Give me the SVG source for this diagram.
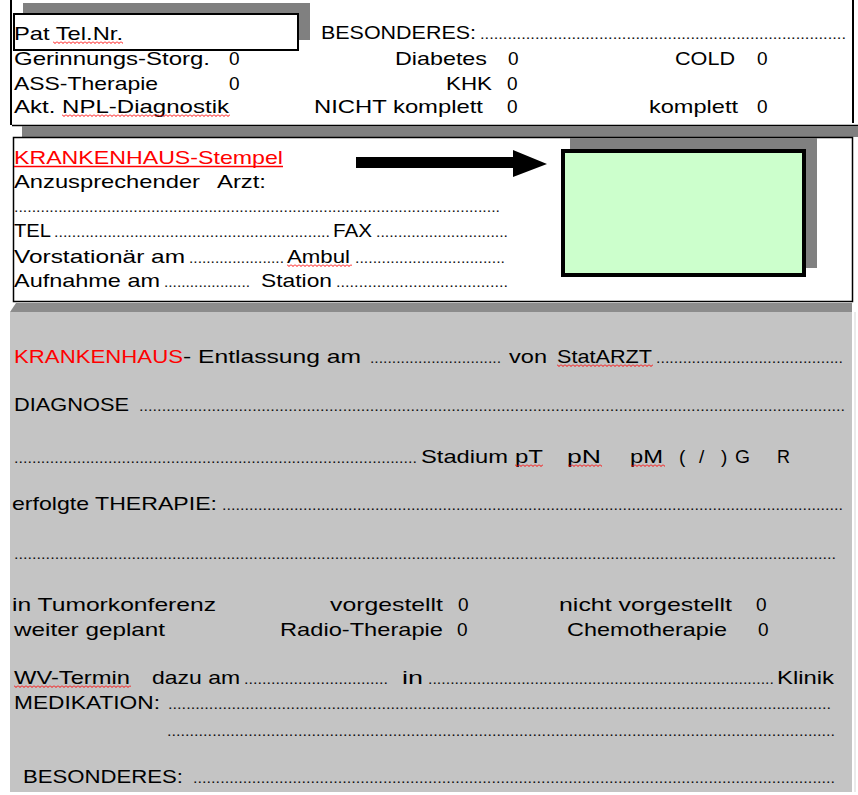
<svg xmlns="http://www.w3.org/2000/svg" width="858" height="795" viewBox="0 0 858 795">
<defs>
<style>
.t{font-family:"Liberation Sans",Arial,sans-serif;font-size:19px;fill:#000}
.d{font-family:"Liberation Sans",Arial,sans-serif;font-size:15px;fill:#111}
.r{fill:#FF0000}
.shadow{fill:#808080}
</style>
<pattern id="wave" width="4" height="4" patternUnits="userSpaceOnUse">
<path d="M0,0.5 L2,2.5 L4,0.5" fill="none" stroke="#FF0000" stroke-width="1"/>
</pattern>
</defs>
<rect width="858" height="795" fill="#fff"/>

<g id="top-section">
<line x1="11" y1="0" x2="11" y2="125" stroke="#000" stroke-width="2"/>
<line x1="853" y1="0" x2="853" y2="123" stroke="#000" stroke-width="2"/>
<text class="t" x="321" y="39" textLength="155" lengthAdjust="spacingAndGlyphs">BESONDERES:</text>
<text class="d" x="480" y="39" textLength="366" lengthAdjust="spacingAndGlyphs">................................................................................</text>
<text class="t" x="14" y="65" textLength="196" lengthAdjust="spacingAndGlyphs">Gerinnungs-Storg.</text>
<text class="t" x="229" y="65">0</text>
<text class="t" x="395" y="65" textLength="92" lengthAdjust="spacingAndGlyphs">Diabetes</text>
<text class="t" x="508" y="65">0</text>
<text class="t" x="675" y="65" textLength="60" lengthAdjust="spacingAndGlyphs">COLD</text>
<text class="t" x="757" y="65">0</text>
<text class="t" x="14" y="90" textLength="144" lengthAdjust="spacingAndGlyphs">ASS-Therapie</text>
<text class="t" x="229" y="90">0</text>
<text class="t" x="446" y="90" textLength="46" lengthAdjust="spacingAndGlyphs">KHK</text>
<text class="t" x="507" y="90">0</text>
<text class="t" x="14" y="113" textLength="215" lengthAdjust="spacingAndGlyphs">Akt. NPL-Diagnostik</text>
<rect transform="translate(62,114)" width="168" height="3" fill="url(#wave)"/>
<text class="t" x="314" y="113" textLength="169" lengthAdjust="spacingAndGlyphs">NICHT komplett</text>
<text class="t" x="507" y="113">0</text>
<text class="t" x="649" y="113" textLength="89" lengthAdjust="spacingAndGlyphs">komplett</text>
<text class="t" x="757" y="113">0</text>
<line x1="12" y1="125.5" x2="858" y2="125.5" stroke="#000" stroke-width="1.5"/>
</g>

<g id="pat-tel-box">
<rect class="shadow" x="23" y="3" width="287" height="37"/>
<rect x="14" y="14" width="284" height="36" fill="#fff" stroke="#000" stroke-width="2"/>
<text class="t" x="14" y="40" textLength="109" lengthAdjust="spacingAndGlyphs">Pat Tel.Nr.</text>
<rect transform="translate(53,41)" width="70" height="3" fill="url(#wave)"/>
</g>

<g id="hospital-stamp">
<rect class="shadow" x="22" y="126" width="836" height="11"/>
<rect x="13.5" y="137.5" width="839" height="164" fill="#fff" stroke="#000" stroke-width="1.5"/>
<text class="t r" x="14" y="164" textLength="269" lengthAdjust="spacingAndGlyphs">KRANKENHAUS-Stempel</text>
<line x1="14" y1="166.5" x2="283" y2="166.5" stroke="#FF0000" stroke-width="1.5"/>
<text class="t" x="14" y="188" textLength="186" lengthAdjust="spacingAndGlyphs">Anzusprechender</text>
<text class="t" x="217" y="188" textLength="49" lengthAdjust="spacingAndGlyphs">Arzt:</text>
<text class="d" x="14" y="212" textLength="486" lengthAdjust="spacingAndGlyphs">..............................................................................................................</text>
<text class="t" x="14" y="237" textLength="37" lengthAdjust="spacingAndGlyphs">TEL</text>
<text class="d" x="54" y="237" textLength="276" lengthAdjust="spacingAndGlyphs">..............................................................</text>
<text class="t" x="333" y="237" textLength="39" lengthAdjust="spacingAndGlyphs">FAX</text>
<text class="d" x="376" y="237" textLength="132" lengthAdjust="spacingAndGlyphs">..............................</text>
<text class="t" x="14" y="263" textLength="171" lengthAdjust="spacingAndGlyphs">Vorstationär am</text>
<text class="d" x="189" y="263" textLength="95" lengthAdjust="spacingAndGlyphs">......................</text>
<text class="t" x="287" y="263" textLength="63" lengthAdjust="spacingAndGlyphs">Ambul</text>
<rect transform="translate(287,264)" width="65" height="3" fill="url(#wave)"/>
<text class="d" x="355" y="263" textLength="150" lengthAdjust="spacingAndGlyphs">..................................</text>
<text class="t" x="14" y="287" textLength="146" lengthAdjust="spacingAndGlyphs">Aufnahme am</text>
<text class="d" x="164" y="287" textLength="86" lengthAdjust="spacingAndGlyphs">....................</text>
<text class="t" x="261" y="287" textLength="71" lengthAdjust="spacingAndGlyphs">Station</text>
<text class="d" x="336" y="287" textLength="172" lengthAdjust="spacingAndGlyphs">......................................</text>
</g>

<g id="stamp-field">
<rect class="shadow" x="570" y="138" width="247" height="130"/>
<rect x="563" y="151" width="241" height="124" fill="#CCFFCC" stroke="#000" stroke-width="4"/>
</g>

<g id="discharge-section">
<path d="M16,303 L852,303 L852,312 L10,312 Z" fill="#8C8C8C"/>
<rect x="10" y="312" width="842" height="480" fill="#C4C4C4"/>
<line x1="855" y1="312" x2="855" y2="792" stroke="#D6D6D6" stroke-width="1"/>
<text class="t r" x="14" y="363" textLength="169" lengthAdjust="spacingAndGlyphs">KRANKENHAUS</text>
<text class="t" x="183" y="363" textLength="178" lengthAdjust="spacingAndGlyphs">- Entlassung am</text>
<text class="d" x="370" y="363" textLength="131" lengthAdjust="spacingAndGlyphs">..............................</text>
<text class="t" x="509" y="363" textLength="38" lengthAdjust="spacingAndGlyphs">von</text>
<text class="t" x="557" y="363" textLength="95" lengthAdjust="spacingAndGlyphs">StatARZT</text>
<rect transform="translate(557,364)" width="96" height="3" fill="url(#wave)"/>
<text class="d" x="656" y="363" textLength="187" lengthAdjust="spacingAndGlyphs">..........................................</text>
<text class="t" x="14" y="411" textLength="115" lengthAdjust="spacingAndGlyphs">DIAGNOSE</text>
<text class="d" x="139" y="411" textLength="706" lengthAdjust="spacingAndGlyphs">............................................................................................................................................................</text>
<text class="d" x="14" y="463" textLength="403" lengthAdjust="spacingAndGlyphs">..........................................................................................</text>
<text class="t" x="421" y="463" textLength="87" lengthAdjust="spacingAndGlyphs">Stadium</text>
<text class="t" x="515" y="463" textLength="28" lengthAdjust="spacingAndGlyphs">pT</text>
<rect transform="translate(515,464)" width="28" height="3" fill="url(#wave)"/>
<text class="t" x="567" y="463" textLength="34" lengthAdjust="spacingAndGlyphs">pN</text>
<rect transform="translate(568,464)" width="34" height="3" fill="url(#wave)"/>
<text class="t" x="630" y="463" textLength="33" lengthAdjust="spacingAndGlyphs">pM</text>
<rect transform="translate(631,464)" width="34" height="3" fill="url(#wave)"/>
<text class="t" x="679" y="463">(</text>
<text class="t" x="699" y="463">/</text>
<text class="t" x="721" y="463">)</text>
<text class="t" x="735" y="463" textLength="15" lengthAdjust="spacingAndGlyphs">G</text>
<text class="t" x="777" y="463" textLength="13" lengthAdjust="spacingAndGlyphs">R</text>
<text class="t" x="12" y="510" textLength="205" lengthAdjust="spacingAndGlyphs">erfolgte THERAPIE:</text>
<text class="d" x="222" y="510" textLength="621" lengthAdjust="spacingAndGlyphs">..........................................................................................................................................</text>
<text class="d" x="14" y="559" textLength="822" lengthAdjust="spacingAndGlyphs">......................................................................................................................................................................................</text>
<text class="t" x="12" y="611" textLength="204" lengthAdjust="spacingAndGlyphs">in Tumorkonferenz</text>
<text class="t" x="330" y="611" textLength="113" lengthAdjust="spacingAndGlyphs">vorgestellt</text>
<text class="t" x="458" y="611">0</text>
<text class="t" x="559" y="611" textLength="173" lengthAdjust="spacingAndGlyphs">nicht vorgestellt</text>
<text class="t" x="756" y="611">0</text>
<text class="t" x="14" y="636" textLength="151" lengthAdjust="spacingAndGlyphs">weiter geplant</text>
<text class="t" x="280" y="636" textLength="163" lengthAdjust="spacingAndGlyphs">Radio-Therapie</text>
<text class="t" x="457" y="636">0</text>
<text class="t" x="567" y="636" textLength="160" lengthAdjust="spacingAndGlyphs">Chemotherapie</text>
<text class="t" x="758" y="636">0</text>
<text class="t" x="14" y="684" textLength="116" lengthAdjust="spacingAndGlyphs">WV-Termin</text>
<rect transform="translate(14,685)" width="117" height="3" fill="url(#wave)"/>
<text class="t" x="152" y="684" textLength="88" lengthAdjust="spacingAndGlyphs">dazu am</text>
<text class="d" x="244" y="684" textLength="144" lengthAdjust="spacingAndGlyphs">................................</text>
<text class="t" x="402" y="684" textLength="21" lengthAdjust="spacingAndGlyphs">in</text>
<text class="d" x="428" y="684" textLength="346" lengthAdjust="spacingAndGlyphs">..............................................................................</text>
<text class="t" x="777" y="684" textLength="57" lengthAdjust="spacingAndGlyphs">Klinik</text>
<text class="t" x="14" y="709" textLength="146" lengthAdjust="spacingAndGlyphs">MEDIKATION:</text>
<text class="d" x="168" y="709" textLength="663" lengthAdjust="spacingAndGlyphs">..................................................................................................................................................</text>
<text class="d" x="167" y="736" textLength="668" lengthAdjust="spacingAndGlyphs">....................................................................................................................................................</text>
<text class="t" x="23" y="783" textLength="160" lengthAdjust="spacingAndGlyphs">BESONDERES:</text>
<text class="d" x="193" y="783" textLength="642" lengthAdjust="spacingAndGlyphs">..............................................................................................................................................</text>
</g>

<g id="connectors">
<polygon points="356,157 513,157 513,150 547,164 513,177 513,168 356,168" fill="#000"/>
</g>
</svg>
